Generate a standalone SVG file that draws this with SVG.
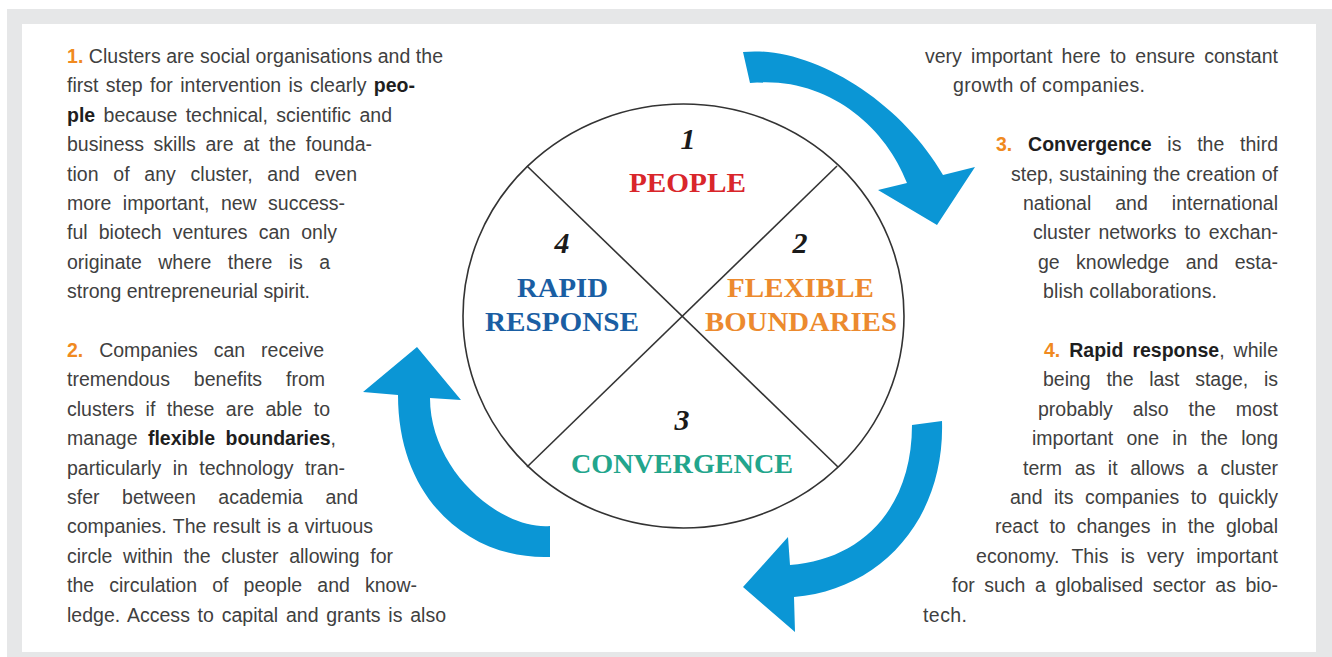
<svg xmlns="http://www.w3.org/2000/svg" width="1332" height="657" viewBox="0 0 1332 657">
<style>
.t{font-family:"Liberation Sans",Arial,Helvetica,sans-serif;font-size:19.5px;fill:#404040}
.b{font-weight:bold;fill:#1e1e1e}
.n{font-weight:bold;fill:#f08a1f}
.q{font-family:"Liberation Serif","Times New Roman",serif;font-weight:bold;font-size:27px}
.num{font-family:"Liberation Serif","Times New Roman",serif;font-weight:bold;font-style:italic;font-size:30px;fill:#1a1a1a;text-anchor:middle}
.arrow{fill:#0b96d5}
.ln{stroke:#333;stroke-width:1.6;fill:none}
</style>
<rect x="0" y="0" width="1332" height="657" fill="#ffffff"/>
<rect x="7" y="9" width="1325" height="648" fill="#e6e7e8"/>
<rect x="22" y="24" width="1294" height="628" fill="#ffffff"/>

<g id="connectors">
<path class="arrow" d="M743,52 C810,45 900,100 943,175 L975,167 L937,225 L878,190 L907,183 C885,125 825,75 750,83 Z"/>
<path class="arrow" d="M550,526 C500,530 430,470 430,398 L461,400 L417,347 L363,392 L398,395 C398,500 470,560 550,557 Z"/>
<path class="arrow" d="M942,421 C945,520 880,590 794,597 L795,632 L743,587 L788,537 L790,565 C860,560 912,510 912,425 Z"/>
</g>

<g id="cycle">
<ellipse class="ln" cx="683.5" cy="316" rx="220.5" ry="212"/>
<line class="ln" x1="527" y1="166" x2="838" y2="467"/>
<line class="ln" x1="837" y1="166" x2="527" y2="467"/>
</g>

<g id="node-people">
<text class="num" x="688" y="149">1</text>
<text class="q" x="629" y="192" textLength="117" lengthAdjust="spacingAndGlyphs" fill="#d9262b">PEOPLE</text>
</g>
<g id="node-flexible">
<text class="num" x="800" y="253">2</text>
<text class="q" x="727" y="297" textLength="147" lengthAdjust="spacingAndGlyphs" fill="#ec8a2e">FLEXIBLE</text>
<text class="q" x="705" y="331" textLength="192" lengthAdjust="spacingAndGlyphs" fill="#ec8a2e">BOUNDARIES</text>
</g>
<g id="node-convergence">
<text class="num" x="682" y="430">3</text>
<text class="q" x="571" y="473" textLength="222" lengthAdjust="spacingAndGlyphs" fill="#22a58c">CONVERGENCE</text>
</g>
<g id="node-rapid">
<text class="num" x="562" y="253">4</text>
<text class="q" x="517" y="297" textLength="91" lengthAdjust="spacingAndGlyphs" fill="#1a5ea3">RAPID</text>
<text class="q" x="485" y="331" textLength="154" lengthAdjust="spacingAndGlyphs" fill="#1a5ea3">RESPONSE</text>
</g>

<g id="text-left">
<text class="t" x="67" y="63" textLength="376" lengthAdjust="spacing"><tspan class="n">1.</tspan> Clusters are social organisations and the</text>
<text class="t" x="67" y="92.4" textLength="348" lengthAdjust="spacing" word-spacing="2">first step for intervention is clearly <tspan class="b">peo-</tspan></text>
<text class="t" x="67" y="121.8" textLength="325" lengthAdjust="spacing" word-spacing="3"><tspan class="b">ple</tspan> because technical, scientific and</text>
<text class="t" x="67" y="151.2" textLength="305" lengthAdjust="spacing" word-spacing="4.2">business skills are at the founda-</text>
<text class="t" x="67" y="180.6" textLength="290" lengthAdjust="spacing" word-spacing="9.2">tion of any cluster, and even</text>
<text class="t" x="67" y="210" textLength="278" lengthAdjust="spacing" word-spacing="6">more important, new success-</text>
<text class="t" x="67" y="239.4" textLength="270" lengthAdjust="spacing" word-spacing="5.7">ful biotech ventures can only</text>
<text class="t" x="67" y="268.8" textLength="263" lengthAdjust="spacing" word-spacing="11">originate where there is a</text>
<text class="t" x="67" y="298.2" textLength="243" lengthAdjust="spacing">strong entrepreneurial spirit.</text>

<text class="t" x="67" y="357" textLength="257" lengthAdjust="spacing" word-spacing="10.5"><tspan class="n">2.</tspan> Companies can receive</text>
<text class="t" x="67" y="386.4" textLength="258" lengthAdjust="spacing" word-spacing="18.5">tremendous benefits from</text>
<text class="t" x="67" y="415.8" textLength="263" lengthAdjust="spacing" word-spacing="6">clusters if these are able to</text>
<text class="t" x="67" y="445.2" textLength="269" lengthAdjust="spacing" word-spacing="5">manage <tspan class="b">flexible boundaries</tspan>,</text>
<text class="t" x="67" y="474.6" textLength="278" lengthAdjust="spacing" word-spacing="6">particularly in technology tran-</text>
<text class="t" x="67" y="504" textLength="291" lengthAdjust="spacing" word-spacing="17.2">sfer between academia and</text>
<text class="t" x="67" y="533.4" textLength="306" lengthAdjust="spacing" word-spacing="1">companies. The result is a virtuous</text>
<text class="t" x="67" y="562.8" textLength="326" lengthAdjust="spacing" word-spacing="5.2">circle within the cluster allowing for</text>
<text class="t" x="67" y="592.2" textLength="350" lengthAdjust="spacing" word-spacing="9.7">the circulation of people and know-</text>
<text class="t" x="67" y="621.6" textLength="379" lengthAdjust="spacing" word-spacing="2.3">ledge. Access to capital and grants is also</text>
</g>

<g id="text-right">
<text class="t" x="925" y="63" textLength="353" lengthAdjust="spacing" word-spacing="3.8">very important here to ensure constant</text>
<text class="t" x="953" y="92.4" textLength="192" lengthAdjust="spacing">growth of companies.</text>

<text class="t" x="996" y="151.2" textLength="282" lengthAdjust="spacing" word-spacing="10.4"><tspan class="n">3.</tspan> <tspan class="b">Convergence</tspan> is the third</text>
<text class="t" x="1011" y="180.6" textLength="267" lengthAdjust="spacing" word-spacing="0.6">step, sustaining the creation of</text>
<text class="t" x="1023" y="210" textLength="255" lengthAdjust="spacing" word-spacing="18.6">national and international</text>
<text class="t" x="1033" y="239.4" textLength="245" lengthAdjust="spacing" word-spacing="2.6">cluster networks to exchan-</text>
<text class="t" x="1038" y="268.8" textLength="240" lengthAdjust="spacing" word-spacing="11">ge knowledge and esta-</text>
<text class="t" x="1043" y="298.2" textLength="174" lengthAdjust="spacing">blish collaborations.</text>

<text class="t" x="1044" y="357" textLength="234" lengthAdjust="spacing" word-spacing="3.6"><tspan class="n">4.</tspan> <tspan class="b">Rapid response</tspan>, while</text>
<text class="t" x="1043" y="386.4" textLength="235" lengthAdjust="spacing" word-spacing="10.3">being the last stage, is</text>
<text class="t" x="1038" y="415.8" textLength="240" lengthAdjust="spacing" word-spacing="14.6">probably also the most</text>
<text class="t" x="1032" y="445.2" textLength="246" lengthAdjust="spacing" word-spacing="7.9">important one in the long</text>
<text class="t" x="1023" y="474.6" textLength="255" lengthAdjust="spacing" word-spacing="7.2">term as it allows a cluster</text>
<text class="t" x="1010" y="504" textLength="268" lengthAdjust="spacing" word-spacing="6">and its companies to quickly</text>
<text class="t" x="995" y="533.4" textLength="283" lengthAdjust="spacing" word-spacing="5.7">react to changes in the global</text>
<text class="t" x="976" y="562.8" textLength="302" lengthAdjust="spacing" word-spacing="6.7">economy. This is very important</text>
<text class="t" x="952" y="592.2" textLength="326" lengthAdjust="spacing" word-spacing="4.1">for such a globalised sector as bio-</text>
<text class="t" x="923" y="621.6" textLength="44" lengthAdjust="spacing">tech.</text>
</g>
</svg>
